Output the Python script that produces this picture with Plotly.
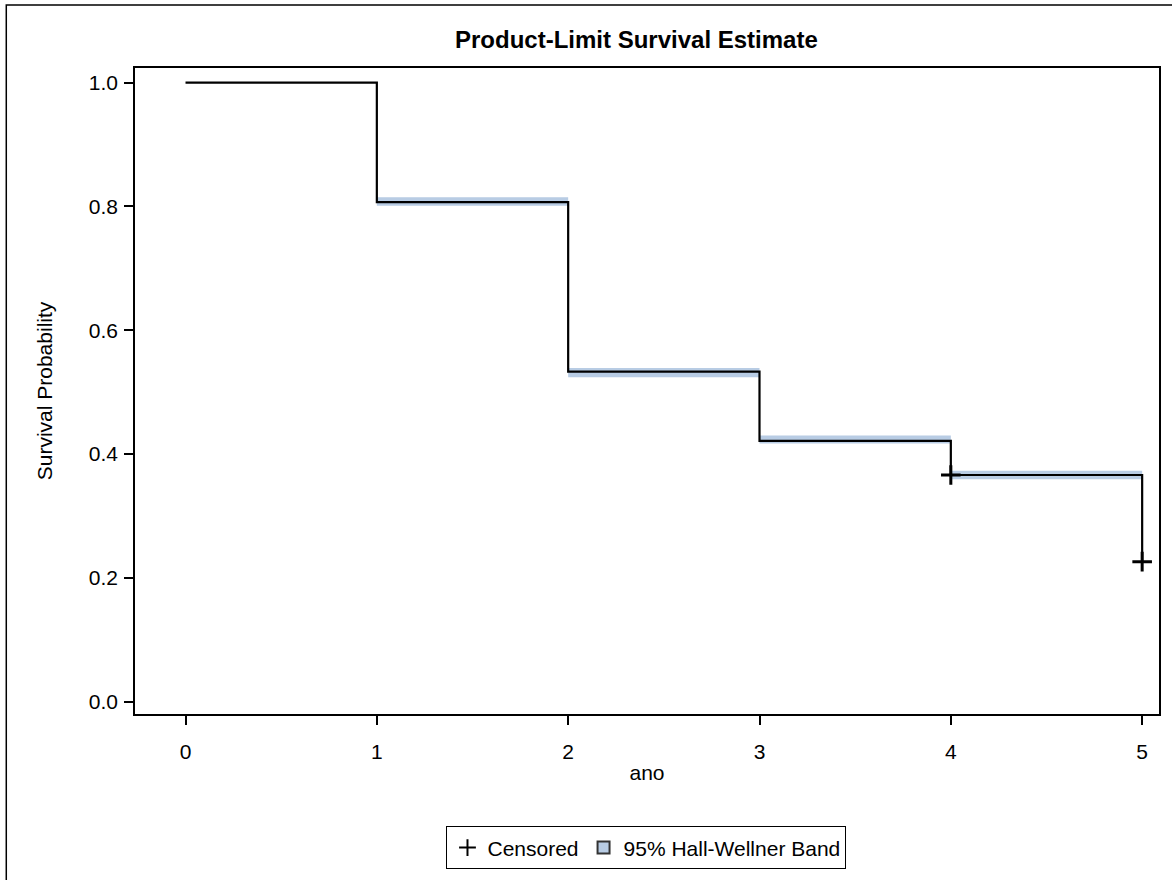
import plotly.graph_objects as go

# Kaplan-Meier product-limit estimate by year
time = [0, 1, 2, 3, 4, 5]
survival = [1.0, 0.807, 0.533, 0.421, 0.366, 0.226]

# 95% Hall-Wellner confidence band, one value per interval start
band_time = [1, 2, 3, 4, 5]
band_lower = [0.801, 0.524, 0.417, 0.359, 0.359]
band_upper = [0.815, 0.539, 0.430, 0.373, 0.373]

# Censored observations
censor_time = [4, 5]
censor_surv = [0.366, 0.226]

x_ticks = [0, 1, 2, 3, 4, 5]
y_ticks = [0.0, 0.2, 0.4, 0.6, 0.8, 1.0]

FONT = "Liberation Sans, Arial, sans-serif"
BAND = "#b8cce4"
FS = 21

fig = go.Figure()

fig.add_trace(go.Scatter(
    x=band_time, y=band_lower, mode="lines", line=dict(width=0, shape="hv"),
    showlegend=False, hoverinfo="skip"))
fig.add_trace(go.Scatter(
    x=band_time, y=band_upper, mode="lines", line=dict(width=0, shape="hv"),
    fill="tonexty", fillcolor=BAND, showlegend=False, hoverinfo="skip"))

fig.add_trace(go.Scatter(
    x=time, y=survival, mode="lines", line=dict(color="black", width=2.2, shape="hv"),
    showlegend=False))

fig.add_trace(go.Scatter(
    x=censor_time, y=censor_surv, mode="markers", name="Censored",
    marker=dict(symbol="cross-thin", size=14, line=dict(color="black", width=3))))

# legend swatch for the band
fig.add_trace(go.Scatter(
    x=[None], y=[None], mode="markers", name="95% Hall-Wellner Band",
    marker=dict(symbol="square", size=13, color=BAND, line=dict(color="#333333", width=1))))

axis_common = dict(
    showline=True, mirror=True, linecolor="black", linewidth=1.6,
    ticks="outside", ticklen=9, tickwidth=1.6, tickcolor="black",
    showgrid=False, zeroline=False,
    tickfont=dict(family=FONT, size=FS, color="black"),
)

fig.update_xaxes(
    range=[-0.264, 5.088], tickvals=x_ticks, ticktext=[str(v) for v in x_ticks],
    ticklabelstandoff=9,
    title=dict(text="ano", font=dict(family=FONT, size=FS, color="black"), standoff=3),
    **axis_common)
fig.update_yaxes(
    range=[-0.0202, 1.0237], tickvals=y_ticks, ticktext=[f"{v:.1f}" for v in y_ticks],
    ticklabelstandoff=2,
    title=dict(text="Survival Probability", font=dict(family=FONT, size=FS, color="black"), standoff=30),
    **axis_common)

# outer frame
fig.add_shape(type="rect", xref="paper", yref="paper",
              x0=-0.1257, x1=1.02, y0=-0.27, y1=1.0974,
              line=dict(color="black", width=1.5), fillcolor="rgba(0,0,0,0)")

fig.update_layout(
    width=1172, height=880,
    margin=dict(l=135, r=11, t=68, b=165),
    paper_bgcolor="white", plot_bgcolor="white",
    font=dict(family=FONT, color="black"),
    title=dict(text="<b>Product-Limit Survival Estimate</b>", x=0.543, xanchor="center",
               yref="container", y=1 - 40 / 880, yanchor="middle",
               font=dict(family=FONT, size=24, color="black")),
    legend=dict(orientation="h", traceorder="normal",
                x=0.4995, xanchor="center", y=-0.174, yanchor="top",
                bordercolor="black", borderwidth=1, bgcolor="white",
                font=dict(family=FONT, size=FS, color="black"),
                itemsizing="constant"),
)

fig.write_html("out.html")
